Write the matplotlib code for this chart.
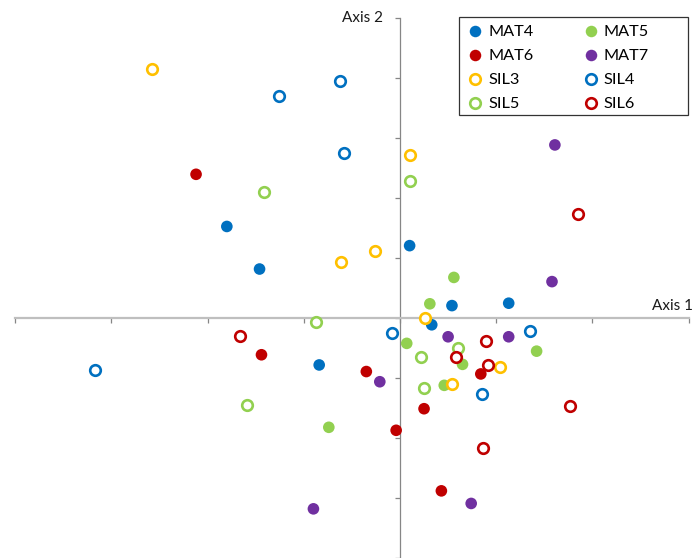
import matplotlib
matplotlib.use("Agg")
import matplotlib.pyplot as plt
from matplotlib.lines import Line2D
from matplotlib.patches import Rectangle

plt.rcParams['font.family'] = ['Lato', 'DejaVu Sans']

# Sample scores on the first two axes
mat4_x = [-1.80, -1.46, 0.10, 0.54, 1.13, 0.33, -0.84]
mat4_y = [1.53, 0.82, 1.21, 0.21, 0.25, -0.11, -0.78]

mat5_x = [0.56, 0.31, 0.07, 0.65, 0.46, 1.42, -0.74]
mat5_y = [0.68, 0.24, -0.42, -0.77, -1.12, -0.55, -1.82]

mat6_x = [-2.12, -1.44, -0.35, 0.25, -0.04, 0.84, 0.43]
mat6_y = [2.40, -0.61, -0.89, -1.51, -1.87, -0.93, -2.88]

mat7_x = [1.61, 1.58, 0.50, 1.13, -0.21, 0.74, -0.90]
mat7_y = [2.89, 0.61, -0.31, -0.31, -1.06, -3.09, -3.18]

sil3_x = [-2.58, 0.10, -0.61, -0.26, 0.26, 1.04, 0.54]
sil3_y = [4.16, 2.72, 0.94, 1.12, 0.00, -0.82, -1.09]

sil4_x = [-0.62, -1.26, -0.58, -0.08, 1.35, 0.85, -3.17]
sil4_y = [3.96, 3.71, 2.76, -0.24, -0.22, -1.27, -0.87]

sil5_x = [-1.41, 0.10, -0.87, 0.60, 0.22, 0.25, -1.59]
sil5_y = [2.11, 2.28, -0.06, -0.50, -0.65, -1.17, -1.45]

sil6_x = [1.85, -1.66, 0.89, 0.58, 0.91, 1.77, 0.86]
sil6_y = [1.74, -0.29, -0.38, -0.64, -0.78, -1.46, -2.17]

names = ["MAT4", "MAT5", "MAT6", "MAT7", "SIL3", "SIL4", "SIL5", "SIL6"]
xs = [mat4_x, mat5_x, mat6_x, mat7_x, sil3_x, sil4_x, sil5_x, sil6_x]
ys = [mat4_y, mat5_y, mat6_y, mat7_y, sil3_y, sil4_y, sil5_y, sil6_y]
colors = ["#0070C0", "#92D050", "#C00000", "#7030A0",
          "#FFC000", "#0070C0", "#92D050", "#C00000"]
filled = [True, True, True, True, False, False, False, False]

x_ticks = [-4, -3, -2, -1, 0, 1, 2, 3]
y_ticks = [-4, -3, -2, -1, 0, 1, 2, 3, 4, 5]

W, H = 694, 558
fig = plt.figure(figsize=(W / 100, H / 100), dpi=100)
ax = fig.add_axes([0, 0, 1, 1])

px_x = 96.2   # pixels per unit on axis 1
px_y = 60.2   # pixels per unit on axis 2
ox, oy = 400.0, 319.5
ax.set_xlim(-ox / px_x, (W - ox) / px_x)
ax.set_ylim(-(H - oy) / px_y, oy / px_y)

# Axes crossing at the origin
for side in ["top", "right"]:
    ax.spines[side].set_visible(False)
ax.spines["left"].set_position(("data", 0))
ax.spines["bottom"].set_position(("data", 0))
ax.spines["left"].set_bounds(y_ticks[0], y_ticks[-1])
ax.spines["bottom"].set_bounds(x_ticks[0], x_ticks[-1])
ax.spines["left"].set_color("#868686")
ax.spines["left"].set_linewidth(0.9)
ax.spines["bottom"].set_color("#BFBFBF")
ax.spines["bottom"].set_linewidth(1.6)
ax.set_xticks(x_ticks)
ax.set_yticks(y_ticks)
ax.tick_params(axis="x", direction="out", length=3.5, width=0.9,
               color="#868686", labelbottom=False)
ax.tick_params(axis="y", direction="out", length=3.5, width=0.9,
               color="#868686", labelleft=False)

handles = {}
for name, x, y, c, f in zip(names, xs, ys, colors, filled):
    if f:
        ax.scatter(x, y, s=70, color=c, edgecolors="none", zorder=3)
        h = Line2D([], [], ls="none", marker="o", markersize=8.3,
                   markerfacecolor=c, markeredgecolor="none")
    else:
        ax.scatter(x, y, s=58, facecolors="white", edgecolors=c,
                   linewidths=1.9, zorder=3)
        h = Line2D([], [], ls="none", marker="o", markersize=7.6,
                   markerfacecolor="white", markeredgecolor=c,
                   markeredgewidth=1.9)
    handles[name] = h

ax.text(383 / W, 1 - 18.5 / H, "Axis 2", transform=fig.transFigure,
        ha="right", va="center", fontsize=11, color="#1a1a1a")
ax.text(693 / W, 1 - 306 / H, "Axis 1", transform=fig.transFigure,
        ha="right", va="center", fontsize=11, color="#1a1a1a")

# Legend laid out row by row: two entries per row
leg_order = ["MAT4", "MAT6", "SIL3", "SIL5", "MAT5", "MAT7", "SIL4", "SIL6"]
leg = fig.legend([handles[n] for n in leg_order], leg_order, ncol=2,
                 loc="upper left", bbox_to_anchor=(459 / W, 1 - 17 / H),
                 borderaxespad=0, fontsize=11.7, frameon=False,
                 handlelength=0.95, handletextpad=0.34, columnspacing=3.05,
                 labelspacing=0.59, borderpad=0.5)
fig.patches.append(Rectangle((459 / W, 1 - 115 / H), 229 / W, 98 / H,
                             transform=fig.transFigure, fill=False,
                             edgecolor="#333333", linewidth=0.9))

fig.savefig("out.png", dpi=100)
